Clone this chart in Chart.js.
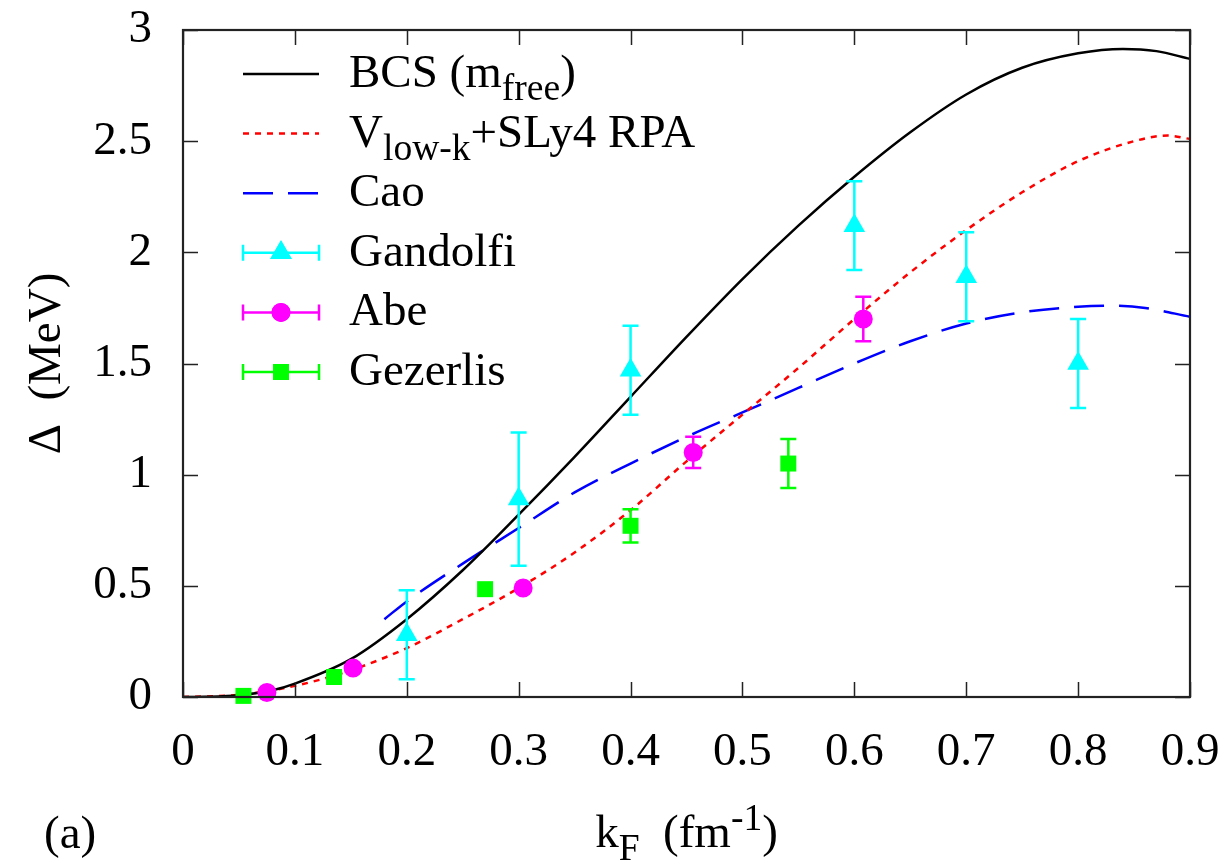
<!DOCTYPE html>
<html>
<head>
<meta charset="utf-8">
<script src="https://cdn.jsdelivr.net/npm/chart.js@4/dist/chart.umd.min.js"></script>
<style>
  html, body { margin: 0; padding: 0; background: #fff; }
  #wrap { width: 1231px; height: 860px; }
</style>
</head>
<body>
<div id="wrap"><canvas id="grafico"></canvas></div>
<script>
// curvas teoricas
const bcsK = [0, 0.02, 0.05, 0.08, 0.1, 0.15, 0.2, 0.25, 0.3, 0.35, 0.4, 0.45, 0.5, 0.55, 0.6, 0.65, 0.7, 0.75, 0.8, 0.84, 0.87, 0.9];
const bcsGap = [0, 0.001, 0.008, 0.03, 0.06, 0.17, 0.35, 0.57, 0.82, 1.08, 1.35, 1.62, 1.88, 2.12, 2.34, 2.54, 2.71, 2.83, 2.895, 2.915, 2.905, 2.87];

const rpaK = [0, 0.05, 0.1, 0.15, 0.2, 0.25, 0.3, 0.35, 0.4, 0.45, 0.5, 0.55, 0.6, 0.65, 0.7, 0.75, 0.8, 0.85, 0.88, 0.9];
const rpaGap = [0, 0.01, 0.05, 0.12, 0.22, 0.35, 0.49, 0.65, 0.84, 1.06, 1.27, 1.48, 1.70, 1.91, 2.10, 2.27, 2.41, 2.50, 2.525, 2.51];

const caoK = [0.18, 0.2, 0.25, 0.3, 0.35, 0.4, 0.45, 0.5, 0.55, 0.6, 0.65, 0.7, 0.75, 0.8, 0.83, 0.86, 0.9];
const caoGap = [0.35, 0.43, 0.60, 0.76, 0.92, 1.05, 1.17, 1.28, 1.39, 1.50, 1.60, 1.68, 1.73, 1.755, 1.76, 1.75, 1.71];

// pontos com barras de erro
const gandolfiK = [0.2, 0.3, 0.4, 0.6, 0.7, 0.8];
const gandolfiGap = [0.28, 0.89, 1.47, 2.12, 1.89, 1.50];
const gandolfiErr = [0.2, 0.3, 0.2, 0.2, 0.2, 0.2];

const abeK = [0.075, 0.152, 0.304, 0.456, 0.608];
const abeGap = [0.02, 0.13, 0.49, 1.10, 1.70];
const abeErr = [0, 0, 0, 0.07, 0.1];

const gezerlisK = [0.054, 0.135, 0.27, 0.4, 0.541];
const gezerlisGap = [0.005, 0.09, 0.485, 0.77, 1.05];
const gezerlisErr = [0, 0, 0, 0.075, 0.11];

const xTickValues = [0, 0.1, 0.2, 0.3, 0.4, 0.5, 0.6, 0.7, 0.8, 0.9];
const xTickLabels = ['0', '0.1', '0.2', '0.3', '0.4', '0.5', '0.6', '0.7', '0.8', '0.9'];
const yTickValues = [0, 0.5, 1, 1.5, 2, 2.5, 3];
const yTickLabels = ['0', '0.5', '1', '1.5', '2', '2.5', '3'];

const FONTE = '"Liberation Serif", "Times New Roman", Times, "Nimbus Roman", "Nimbus Roman No9 L", "FreeSerif", "Noto Serif", "DejaVu Serif", serif';

function pares(xs, ys) {
  return xs.map((x, i) => ({ x: x, y: ys[i] }));
}

// texto com indice / expoente
function textoRico(ctx, partes, x, y, tam) {
  let cx = x;
  partes.forEach(p => {
    let t = tam, dy = 0;
    if (p.s === 'sub') { t = tam * 0.8; dy = 13; }
    if (p.s === 'sup') { t = tam * 0.8; dy = -17; }
    ctx.font = t + 'px ' + FONTE;
    ctx.fillText(p.t, cx, y + dy);
    cx += ctx.measureText(p.t).width;
  });
  return cx - x;
}
function larguraRica(ctx, partes, tam) {
  let w = 0;
  partes.forEach(p => {
    const t = p.s ? tam * 0.8 : tam;
    ctx.font = t + 'px ' + FONTE;
    w += ctx.measureText(p.t).width;
  });
  return w;
}

const barrasErro = {
  id: 'barrasErro',
  afterDatasetsDraw(chart) {
    const ctx = chart.ctx;
    const sx = chart.scales.x, sy = chart.scales.y;
    chart.data.datasets.forEach(ds => {
      if (!ds.erros) return;
      ctx.save();
      ctx.strokeStyle = ds.borderColor;
      ctx.lineWidth = 2.5;
      ds.data.forEach((p, i) => {
        const e = ds.erros[i];
        if (!e) return;
        const px = sx.getPixelForValue(p.x);
        const y1 = sy.getPixelForValue(p.y + e);
        const y2 = sy.getPixelForValue(p.y - e);
        ctx.beginPath();
        ctx.moveTo(px, y1); ctx.lineTo(px, y2);
        ctx.moveTo(px - 8, y1); ctx.lineTo(px + 8, y1);
        ctx.moveTo(px - 8, y2); ctx.lineTo(px + 8, y2);
        ctx.stroke();
      });
      ctx.restore();
    });
  }
};

const moldura = {
  id: 'moldura',
  afterDraw(chart) {
    const ctx = chart.ctx;
    const a = chart.chartArea;
    const sx = chart.scales.x, sy = chart.scales.y;
    ctx.save();
    ctx.strokeStyle = '#222';
    ctx.lineWidth = 1.5;
    ctx.beginPath();
    xTickValues.forEach(v => {
      const px = Math.round(sx.getPixelForValue(v)) + 0.5;
      ctx.moveTo(px, a.bottom); ctx.lineTo(px, a.bottom - 15);
      ctx.moveTo(px, a.top); ctx.lineTo(px, a.top + 15);
    });
    yTickValues.forEach(v => {
      const py = Math.round(sy.getPixelForValue(v)) + 0.5;
      ctx.moveTo(a.left, py); ctx.lineTo(a.left + 15, py);
      ctx.moveTo(a.right, py); ctx.lineTo(a.right - 15, py);
    });
    ctx.stroke();
    ctx.lineWidth = 2.2;
    ctx.strokeRect(a.left, a.top, a.right - a.left, a.bottom - a.top);

    // titulos dos eixos
    ctx.fillStyle = '#000';
    ctx.textBaseline = 'alphabetic';
    const tituloX = [{ t: 'k' }, { t: 'F', s: 'sub' }, { t: '  (fm' }, { t: '-1', s: 'sup' }, { t: ')' }];
    const wx = larguraRica(ctx, tituloX, 47);
    textoRico(ctx, tituloX, (a.left + a.right) / 2 - wx / 2, 847, 47);
    ctx.font = '47px ' + FONTE;
    ctx.fillText('(a)', 44, 848);

    ctx.save();
    ctx.translate(60, (a.top + a.bottom) / 2);
    ctx.rotate(-Math.PI / 2);
    ctx.textAlign = 'center';
    ctx.fillText('\u0394  (MeV)', 0, 0);
    ctx.restore();

    // legenda
    const itens = [
      { partes: [{ t: 'BCS (m' }, { t: 'free', s: 'sub' }, { t: ')' }], cor: '#000', dash: [], erro: false },
      { partes: [{ t: 'V' }, { t: 'low-k', s: 'sub' }, { t: '+SLy4 RPA' }], cor: '#ff0000', dash: [6, 6], erro: false },
      { partes: [{ t: 'Cao' }], cor: '#0000ff', dash: [30, 15], erro: false },
      { partes: [{ t: 'Gandolfi' }], cor: '#00ffff', marca: 'triangle', erro: true },
      { partes: [{ t: 'Abe' }], cor: '#ff00ff', marca: 'circle', erro: true },
      { partes: [{ t: 'Gezerlis' }], cor: '#00ff00', marca: 'rect', erro: true }
    ];
    itens.forEach((it, i) => {
      const y = 74 + i * 59.6;
      ctx.strokeStyle = it.cor;
      ctx.fillStyle = it.cor;
      ctx.lineWidth = 2.5;
      ctx.setLineDash(it.erro ? [] : it.dash);
      ctx.beginPath();
      ctx.moveTo(243, y); ctx.lineTo(319, y);
      if (it.erro) {
        ctx.moveTo(243, y - 8); ctx.lineTo(243, y + 8);
        ctx.moveTo(319, y - 8); ctx.lineTo(319, y + 8);
      }
      ctx.stroke();
      ctx.setLineDash([]);
      if (it.erro) {
        const r = it.marca === 'triangle' ? 12.5 : (it.marca === 'rect' ? 11.3 : 9.5);
        Chart.helpers.drawPoint(ctx, { pointStyle: it.marca, radius: r, rotation: 0, borderWidth: 0 }, 281, y);
        ctx.fill();
      }
      ctx.fillStyle = '#000';
      textoRico(ctx, it.partes, 349, y + 13, 47);
    });
    ctx.restore();
  }
};

function criarGrafico() {
  const ctx = document.getElementById('grafico').getContext('2d');
  new Chart(ctx, {
    type: 'line',
    data: {
      datasets: [
        {
          label: 'BCS (m_free)',
          data: pares(bcsK, bcsGap),
          borderColor: '#000000',
          borderWidth: 2.5,
          pointRadius: 0,
          cubicInterpolationMode: 'monotone',
          order: 3
        },
        {
          label: 'Vlow-k+SLy4 RPA',
          data: pares(rpaK, rpaGap),
          borderColor: '#ff0000',
          borderWidth: 2.5,
          borderDash: [6, 6],
          pointRadius: 0,
          cubicInterpolationMode: 'monotone',
          order: 3
        },
        {
          label: 'Cao',
          data: pares(caoK, caoGap),
          borderColor: '#0000ff',
          borderWidth: 2.5,
          borderDash: [30, 15],
          pointRadius: 0,
          cubicInterpolationMode: 'monotone',
          order: 3
        },
        {
          label: 'Gandolfi',
          data: pares(gandolfiK, gandolfiGap),
          erros: gandolfiErr,
          showLine: false,
          borderColor: '#00ffff',
          backgroundColor: '#00ffff',
          pointStyle: 'triangle',
          pointRadius: 12.5,
          pointBorderWidth: 0,
          clip: false,
          order: 1
        },
        {
          label: 'Abe',
          data: pares(abeK, abeGap),
          erros: abeErr,
          showLine: false,
          borderColor: '#ff00ff',
          backgroundColor: '#ff00ff',
          pointStyle: 'circle',
          pointRadius: 9.5,
          pointBorderWidth: 0,
          clip: false,
          order: 1
        },
        {
          label: 'Gezerlis',
          data: pares(gezerlisK, gezerlisGap),
          erros: gezerlisErr,
          showLine: false,
          borderColor: '#00ff00',
          backgroundColor: '#00ff00',
          pointStyle: 'rect',
          pointRadius: 11.3,
          pointBorderWidth: 0,
          clip: false,
          order: 1
        }
      ]
    },
    options: {
      responsive: true,
      maintainAspectRatio: false,
      animation: false,
      layout: { padding: { left: 0, right: 41, top: 30, bottom: 0 } },
      plugins: {
        legend: { display: false },
        tooltip: { enabled: false }
      },
      elements: { line: { fill: false } },
      scales: {
        x: {
          type: 'linear',
          min: 0,
          max: 0.9,
          afterBuildTicks: s => { s.ticks = xTickValues.map(v => ({ value: v })); },
          afterFit: s => { s.height = 163; s.paddingLeft = 0; s.paddingRight = 0; },
          grid: { display: false, drawTicks: false },
          border: { display: false },
          ticks: {
            padding: 27,
            color: '#000',
            font: { family: FONTE, size: 47 },
            maxRotation: 0,
            callback: (v, i) => xTickLabels[i]
          }
        },
        y: {
          type: 'linear',
          min: 0,
          max: 3,
          afterBuildTicks: s => { s.ticks = yTickValues.map(v => ({ value: v })); },
          afterFit: s => { s.width = 183; s.paddingTop = 0; s.paddingBottom = 0; },
          grid: { display: false, drawTicks: false },
          border: { display: false },
          ticks: {
            padding: 31,
            color: '#000',
            font: { family: FONTE, size: 47 },
            callback: (v, i) => yTickLabels[i]
          }
        }
      }
    },
    plugins: [barrasErro, moldura]
  });
}

if (document.fonts && document.fonts.load) {
  document.fonts.load('47px "Liberation Serif"').then(criarGrafico, criarGrafico);
} else {
  criarGrafico();
}
</script>
</body>
</html>
